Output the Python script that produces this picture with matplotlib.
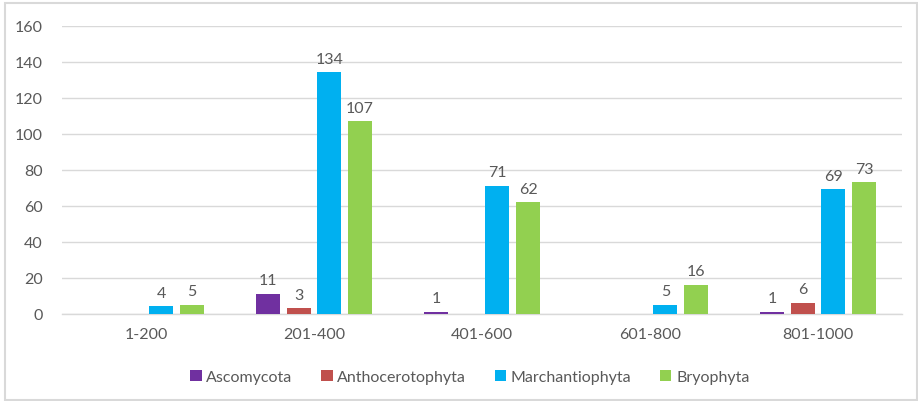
import matplotlib
matplotlib.use("Agg")
import matplotlib.pyplot as plt
from matplotlib.patches import Rectangle
import numpy as np

categories = ["1-200", "201-400", "401-600", "601-800", "801-1000"]
series_names = ["Ascomycota", "Anthocerotophyta", "Marchantiophyta", "Bryophyta"]
ascomycota = [0, 11, 1, 0, 1]
anthocerotophyta = [0, 3, 0, 0, 6]
marchantiophyta = [4, 134, 71, 5, 69]
bryophyta = [5, 107, 62, 16, 73]
colors = ["#7030A0", "#C0504D", "#00B0F0", "#92D050"]
yticks = [0, 20, 40, 60, 80, 100, 120, 140, 160]

plt.rcParams['font.family'] = ['Lato', 'DejaVu Sans']
text_color = "#595959"
fs = 11.5

W, H = 918, 402
fig = plt.figure(figsize=(W / 100, H / 100), dpi=100)
ax = fig.add_axes([62 / W, (H - 314.5) / H, 840 / W, (314.5 - 26.7) / H])

x = np.arange(len(categories))
step = 0.183
width = 0.143
all_series = [ascomycota, anthocerotophyta, marchantiophyta, bryophyta]
for i, (name, vals, c) in enumerate(zip(series_names, all_series, colors)):
    pos = x + (i - 1.5) * step
    ax.bar(pos, vals, width=width, color=c, label=name, zorder=3)
    for p, v in zip(pos, vals):
        if v > 0:
            ax.text(p, v + 3.5, str(v), ha="center", va="bottom",
                    fontsize=fs, color=text_color)

ax.set_xlim(-0.5, len(categories) - 0.5)
ax.set_ylim(0, 160)
ax.set_yticks(yticks)
ax.set_xticks(x)
ax.set_xticklabels(categories)
ax.tick_params(axis="both", length=0, labelsize=fs, labelcolor=text_color)
ax.tick_params(axis="y", pad=14)
ax.tick_params(axis="x", pad=10)
ax.grid(axis="y", color="#d9d9d9", linewidth=1, zorder=0)
for s in ["top", "right", "left"]:
    ax.spines[s].set_visible(False)
ax.spines["bottom"].set_color("#d9d9d9")
ax.spines["bottom"].set_linewidth(1)

leg = fig.legend(loc="center", bbox_to_anchor=(470 / W, (H - 378) / H),
                 ncol=4, frameon=False, fontsize=fs, handlelength=0.7,
                 handleheight=0.7, handletextpad=0.3, columnspacing=1.8)
for t in leg.get_texts():
    t.set_color(text_color)

fig.patches.append(Rectangle((5 / W, 1 / H), (917 - 5) / W, (398 - 1) / H,
                             transform=fig.transFigure, fill=False,
                             edgecolor="#d9d9d9", linewidth=1.5))

fig.savefig("out.png", dpi=100)
